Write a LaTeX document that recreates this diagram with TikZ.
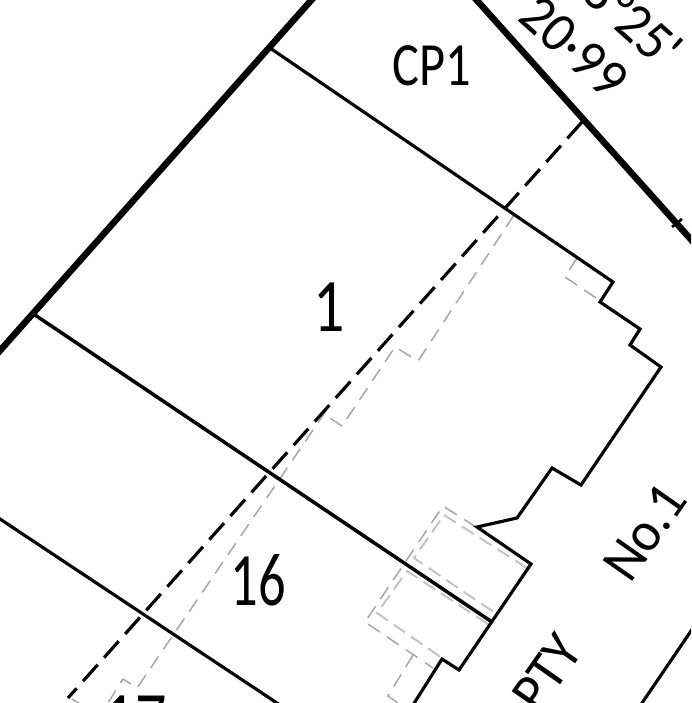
\documentclass[tikz,border=0pt]{standalone}
\usepackage{fontspec}
\newfontfamily\labfont[FakeStretch=0.82]{Carlito}
\newfontfamily\wideFont[FakeStretch=0.95]{Carlito}
\tikzset{
  x=0.02cm,y=-0.02cm,
  bound/.style={line width=3.7pt,black},
  wall/.style={line width=1.8pt,black,line join=miter},
  lotline/.style={line width=2pt,black},
  easement/.style={line width=1.8pt,black,dash pattern=on 12.5pt off 5.5pt},
  ghost/.style={line width=0.85pt,black!35,dash pattern=on 8pt off 5pt},
  ghostb/.style={line width=1.1pt,black!24,dash pattern=on 8pt off 4pt},
  big/.style={font=\labfont\fontsize{43pt}{43pt}\selectfont,inner sep=0pt,text=black},
  mid/.style={font=\labfont\fontsize{35pt}{35pt}\selectfont,inner sep=0pt,text=black},
  small/.style={font=\wideFont\fontsize{32pt}{32pt}\selectfont,inner sep=0pt,text=black}
}
\begin{document}
\begin{tikzpicture}
\useasboundingbox (0,0) rectangle (691,703);
\clip (0,0) rectangle (691,703);
% grey hidden lines
\draw[ghost] (514,215) -- (418,361) -- (395,347) -- (342,426) -- (324,414);
\draw[ghost] (326,411) -- (137,688) -- (123,679) -- (106,706);
\draw[ghost] (72,699) -- (82,705);
\draw[ghost] (577,258) -- (565,277) -- (599,300);
\draw[ghost] (476,527) -- (443,506) -- (365,622) -- (433,668);
\draw[ghost] (413,655) -- (388,696) -- (402,706);
\draw[ghostb] (527,568) -- (444,515) -- (414,558) -- (495,613);
\draw[ghostb] (488,624) -- (407,571) -- (377,613) -- (442,658);
% boundaries
\draw[bound] (-3,354) -- (315,-4);
\draw[bound] (473,-4) -- (695,244);
\draw[line width=1.5pt] (672,227) -- (682,219);
% building and lot lines
\draw[wall] (270,48) -- (613,282) -- (600,302) -- (640,329) -- (630,345) -- (661,367)
  -- (581,485) -- (552,468) -- (517,518) -- (477,527) -- (531,564) -- (459,670)
  -- (442,659) -- (413,705);
\draw[lotline] (35,315) -- (492,622);
\draw[wall] (-3,517) -- (280,705);
\draw[wall] (693,628) -- (640,706);
% easement
\draw[easement] (582,122) -- (68,698);
% labels
\node[mid] (cp) at (432,66) {CP1};
\node[big] (one) at (329,307) {1};
\node[big] (sixteen) at (258,580) {\scalebox{0.88}[1]{16}};
\node[small,rotate=55] (no) at (645,532) {No.1};
\node[small,rotate=-42] (dist) at (574,47) {20·99};
\node[small,rotate=-42] (bear) at (633,20) {8°25'};
\node[small,rotate=55] (prop) at (547,673) {PTY};
\node[big,anchor=north] (seventeen) at (135,696) {17};
\end{tikzpicture}
\end{document}
